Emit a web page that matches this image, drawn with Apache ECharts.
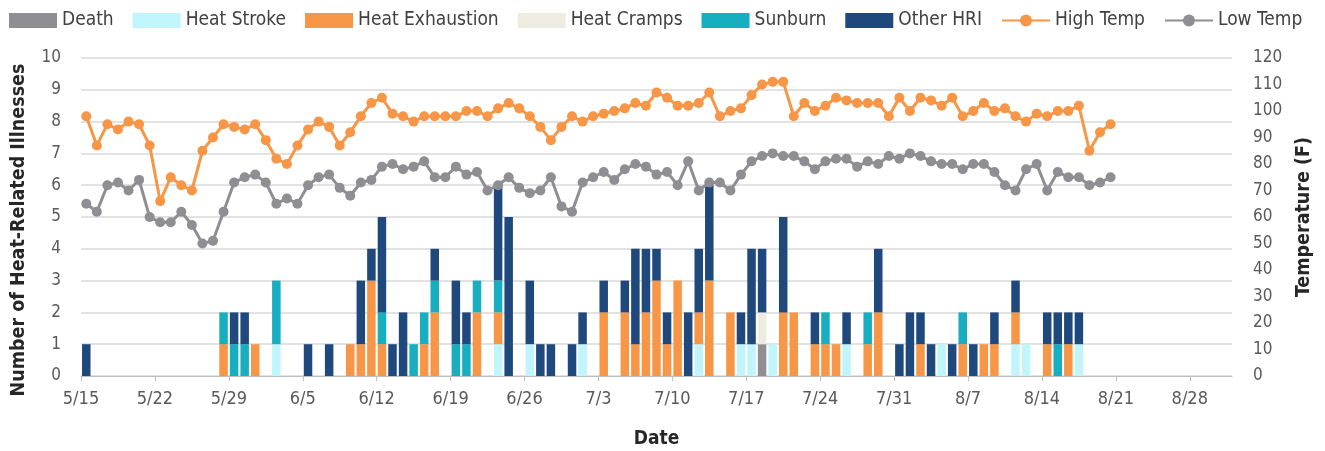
<!DOCTYPE html>
<html>
<head>
<meta charset="utf-8">
<script src="https://cdn.jsdelivr.net/npm/echarts@6/dist/echarts.min.js"></script>
<style>
  html, body { margin: 0; padding: 0; background: #fff; }
  #chart { width: 1325px; height: 451px; }
</style>
</head>
<body>
<div id="chart"></div>
<script>
// days 5/15 .. 8/31
const months = [[5, 15, 31], [6, 1, 30], [7, 1, 31], [8, 1, 31]]
const categories = []
months.forEach(function (m) {
    for (let d = m[1]; d <= m[2]; d++) categories.push(m[0] + '/' + d)
})
// tick labels sit on day boundaries, one more than days
const tickLabels = categories.concat([''])

// bar values, one per day, rows of 7 days starting 5/15
const death = [
    0,0,0,0,0,0,0, 0,0,0,0,0,0,0, 0,0,0,0,0,0,0, 0,0,0,0,0,0,0,
    0,0,0,0,0,0,0, 0,0,0,0,0,0,0, 0,0,0,0,0,0,0, 0,0,0,0,0,0,0,
    0,0,0,0,0,0,0, 0,1,0,0,0,0,0, 0,0,0,0,0,0,0, 0,0,0,0,0,0,0,
    0,0,0,0,0,0,0, 0,0,0,0,0,0,0, 0,0,0,0,0,0,0, 0,0,0,0
]
const heatStroke = [
    0,0,0,0,0,0,0, 0,0,0,0,0,0,0, 0,0,0,0,1,0,0, 0,0,0,0,0,0,0,
    0,0,0,0,0,0,0, 0,0,0,0,1,0,0, 1,0,0,0,0,1,0, 0,0,0,0,0,0,0,
    0,0,1,0,0,0,1, 1,0,1,0,0,0,0, 0,0,1,0,0,0,0, 0,0,0,0,1,0,0,
    0,0,0,0,1,1,0, 0,0,0,1,0,0,0, 0,0,0,0,0,0,0, 0,0,0,0
]
const heatExhaustion = [
    0,0,0,0,0,0,0, 0,0,0,0,0,0,1, 0,0,1,0,0,0,0, 0,0,0,0,1,1,3,
    1,0,0,0,1,2,0, 0,0,2,0,1,0,0, 0,0,0,0,0,0,0, 2,0,2,1,2,3,1,
    3,0,1,3,0,2,0, 0,0,0,2,2,0,1, 1,1,0,0,1,2,0, 0,0,1,0,0,0,1,
    0,1,1,0,1,0,0, 1,0,1,0,0,0,0, 0,0,0,0,0,0,0, 0,0,0,0
]
const heatCramps = [
    0,0,0,0,0,0,0, 0,0,0,0,0,0,0, 0,0,0,0,0,0,0, 0,0,0,0,0,0,0,
    0,0,0,0,0,0,0, 0,0,0,0,0,0,0, 0,0,0,0,0,0,0, 0,0,0,0,0,0,0,
    0,0,0,0,0,0,0, 0,1,0,0,0,0,0, 0,0,0,0,0,0,0, 0,0,0,0,0,0,0,
    0,0,0,0,0,0,0, 0,0,0,0,0,0,0, 0,0,0,0,0,0,0, 0,0,0,0
]
const sunburn = [
    0,0,0,0,0,0,0, 0,0,0,0,0,0,1, 1,1,0,0,2,0,0, 0,0,0,0,0,0,0,
    1,0,0,1,1,1,0, 1,1,1,0,1,0,0, 0,0,0,0,0,0,0, 0,0,0,0,0,0,0,
    0,0,0,0,0,0,0, 0,0,0,0,0,0,0, 1,0,0,0,1,0,0, 0,0,0,0,0,0,1,
    0,0,0,0,0,0,0, 0,1,0,0,0,0,0, 0,0,0,0,0,0,0, 0,0,0,0
]
const otherHri = [
    1,0,0,0,0,0,0, 0,0,0,0,0,0,0, 1,1,0,0,0,0,0, 1,0,1,0,0,2,1,
    3,1,2,0,0,1,0, 2,1,0,0,3,5,0, 2,1,1,0,1,1,0, 1,0,1,3,2,1,1,
    0,2,2,3,0,0,1, 3,2,0,3,0,0,1, 0,0,1,0,0,2,0, 1,2,1,1,0,1,0,
    1,0,1,0,1,0,0, 1,1,1,1,0,0,0, 0,0,0,0,0,0,0, 0,0,0,0
]

// temperatures (F), 5/15 .. 8/20
const highTemp = [
    98, 87, 95, 93, 96, 95, 87,
    66, 75, 72, 70, 85, 90, 95,
    94, 93, 95, 89, 82, 80, 87,
    93, 96, 94, 87, 92, 98, 103,
    105, 99, 98, 96, 98, 98, 98,
    98, 100, 100, 98, 101, 103, 101,
    98, 94, 89, 94, 98, 96, 98,
    99, 100, 101, 103, 102, 107, 105,
    102, 102, 103, 107, 98, 100, 101,
    106, 110, 111, 111, 98, 103, 100,
    102, 105, 104, 103, 103, 103, 98,
    105, 100, 105, 104, 102, 105, 98,
    100, 103, 100, 101, 98, 96, 99,
    98, 100, 100, 102, 85, 92, 95
]
const lowTemp = [
    65, 62, 72, 73, 70, 74, 60,
    58, 58, 62, 57, 50, 51, 62,
    73, 75, 76, 73, 65, 67, 65,
    72, 75, 76, 71, 68, 73, 74,
    79, 80, 78, 79, 81, 75, 75,
    79, 76, 77, 70, 72, 75, 71,
    69, 70, 75, 64, 62, 73, 75,
    77, 74, 78, 80, 79, 76, 77,
    72, 81, 70, 73, 73, 70, 76,
    81, 83, 84, 83, 83, 81, 78,
    81, 82, 82, 79, 81, 80, 83,
    82, 84, 83, 81, 80, 80, 78,
    80, 80, 77, 72, 70, 78, 80,
    70, 77, 75, 75, 72, 73, 75
]

const font = "'Liberation Sans Narrow', 'DejaVu Sans Condensed', Lato, sans-serif"
const labelColor = '#595959'
const titleColor = '#262626'

function barSeries(name, data, color) {
    return {
        name: name,
        type: 'bar',
        stack: 'hri',
        data: data,
        barWidth: 8.5,
        itemStyle: { color: color }
    }
}

function lineSeries(name, data, color) {
    return {
        name: name,
        type: 'line',
        yAxisIndex: 1,
        data: data,
        symbol: 'circle',
        symbolSize: 10,
        showSymbol: true,
        showAllSymbol: true,
        lineStyle: { color: color, width: 3 },
        itemStyle: { color: color }
    }
}

let option = {
    animation: false,
    textStyle: { fontFamily: font },
    legend: {
        left: 4,
        top: 6,
        itemWidth: 48,
        itemHeight: 15,
        itemGap: 19,
        textStyle: { fontSize: 19, color: '#404040', fontFamily: font },
        data: [
            { name: 'Death', icon: 'rect' },
            { name: 'Heat Stroke', icon: 'rect' },
            { name: 'Heat Exhaustion', icon: 'rect' },
            { name: 'Heat Cramps', icon: 'rect' },
            { name: 'Sunburn', icon: 'rect' },
            { name: 'Other HRI', icon: 'rect' },
            'High Temp',
            'Low Temp'
        ]
    },
    grid: {
        left: 81,
        right: 93,
        top: 58,
        bottom: 75,
        outerBoundsMode: 'none'
    },
    xAxis: [
        {
            type: 'category',
            data: categories,
            boundaryGap: true,
            axisLine: { show: false },
            axisTick: { show: false },
            axisLabel: { show: false }
        },
        {
            type: 'category',
            data: tickLabels,
            boundaryGap: false,
            position: 'bottom',
            axisLine: { lineStyle: { color: '#bfbfbf', width: 1 } },
            axisTick: { interval: 6, length: 5, lineStyle: { color: '#bfbfbf' } },
            axisLabel: { interval: 6, margin: 14, fontSize: 18, color: labelColor, fontFamily: font },
            name: 'Date',
            nameLocation: 'middle',
            nameGap: 54,
            nameTextStyle: { fontSize: 19, fontWeight: 'bold', color: titleColor, fontFamily: font }
        }
    ],
    yAxis: [
        {
            type: 'value',
            min: 0,
            max: 10,
            interval: 1,
            axisLine: { show: false },
            axisTick: { show: false },
            axisLabel: { margin: 20, fontSize: 17, color: labelColor, fontFamily: font },
            splitLine: { lineStyle: { color: '#d9d9d9', width: 1.5 } },
            name: 'Number of Heat-Related Illnesses',
            nameLocation: 'middle',
            nameRotate: 90,
            nameGap: 52,
            nameTextStyle: {
                fontSize: 19.5, fontWeight: 'bold', color: titleColor, fontFamily: font,
                padding: [0, 26, 0, 0]
            }
        },
        {
            type: 'value',
            min: 0,
            max: 120,
            interval: 10,
            axisLine: { show: false },
            axisTick: { show: false },
            axisLabel: { margin: 21, fontSize: 17, color: labelColor, fontFamily: font },
            splitLine: { show: false },
            name: 'Temperature (F)',
            nameLocation: 'middle',
            nameRotate: 90,
            nameGap: 62,
            nameTextStyle: { fontSize: 19.5, fontWeight: 'bold', color: titleColor, fontFamily: font }
        }
    ],
    series: [
        barSeries('Death', death, '#8e8e93'),
        barSeries('Heat Stroke', heatStroke, '#c0f5fb'),
        barSeries('Heat Exhaustion', heatExhaustion, '#f79646'),
        barSeries('Heat Cramps', heatCramps, '#eeece1'),
        barSeries('Sunburn', sunburn, '#17aebf'),
        barSeries('Other HRI', otherHri, '#1f497d'),
        lineSeries('High Temp', highTemp, '#f79646'),
        lineSeries('Low Temp', lowTemp, '#8e8e93')
    ]
}

let chart = echarts.init(document.getElementById('chart'))
chart.setOption(option)
</script>
</body>
</html>
